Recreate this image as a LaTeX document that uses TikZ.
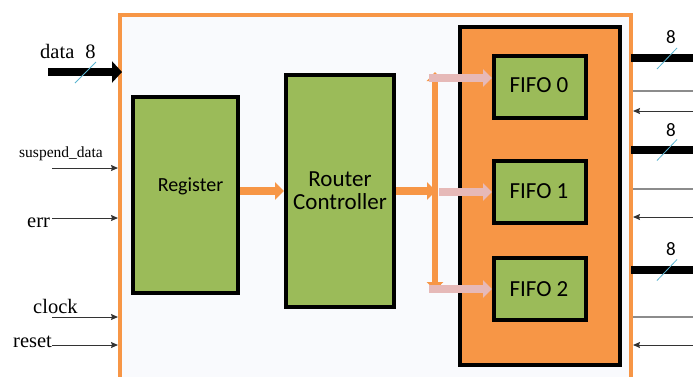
\documentclass[tikz,border=0pt]{standalone}
\usepackage{fontspec}
\usetikzlibrary{arrows.meta}
\newfontfamily\serifface{Liberation Serif}
\newfontfamily\sansface{Carlito}
\definecolor{blockgreen}{HTML}{9BBB59}
\definecolor{blockorange}{HTML}{F79646}
\definecolor{linkpink}{HTML}{E6B9B8}
\definecolor{chipfill}{HTML}{F9FAFD}
\definecolor{buswidth}{HTML}{5BB4D0}
\definecolor{pinline}{HTML}{333333}
\definecolor{idleline}{HTML}{8C8C8C}
\tikzset{
  chip/.style={draw=blockorange, line width=4pt, fill=chipfill, inner sep=0pt},
  block/.style={draw=black, line width=4pt, fill=blockgreen, inner sep=0pt},
  bank/.style={draw=black, line width=4pt, fill=blockorange, inner sep=0pt},
  blocktext/.style={font=\sansface\fontsize{20}{20}\selectfont, inner sep=0pt, anchor=base},
  fifotext/.style={font=\sansface\fontsize{23}{23}\selectfont, inner sep=0pt, anchor=base},
  pinlabel/.style={font=\serifface\fontsize{20.5}{20.5}\selectfont, inner sep=0pt, anchor=base west},
  widthlabel/.style={font=\sansface\fontsize{19}{19}\selectfont, inner sep=0pt, anchor=base},
  thinpin/.style={draw=pinline, line width=1pt, -{Stealth[length=7pt,width=6pt,inset=1pt]}},
  idlepin/.style={draw=idleline, line width=1.2pt},
  buspin/.style={draw=black, line width=8pt},
  slash/.style={draw=buswidth, line width=0.8pt},
  orangeflow/.style={draw=blockorange, line width=8pt, -{Triangle[length=9pt,width=17pt]}},
  orangebus/.style={draw=blockorange, line width=6pt,
    {Triangle[length=9pt,width=16pt]}-{Triangle[length=9pt,width=16pt]}},
  pinkflow/.style={draw=linkpink, line width=8pt, -{Triangle[length=9pt,width=17pt]}},
}
\begin{document}
\begin{tikzpicture}[x=1pt, y=-1pt]
  \useasboundingbox (0,0) rectangle (693,376);
  \clip (0,0) rectangle (693,376);

  % chip outline (runs past the lower edge)
  \node[chip, minimum width=511pt, minimum height=385pt] (chip) at (375.5,207.5) {};

  % functional blocks
  \node[block, minimum width=105pt, minimum height=196pt] (reg) at (185.5,195) {};
  \node[block, minimum width=108pt, minimum height=232pt] (rc) at (340,191) {};
  \node[bank, minimum width=160pt, minimum height=338pt] (bank) at (540,196) {};
  \node[block, minimum width=92pt, minimum height=62pt] (f0) at (540,87) {};
  \node[block, minimum width=92pt, minimum height=62pt] (f1) at (540,192) {};
  \node[block, minimum width=92pt, minimum height=62pt] (f2) at (540,289) {};

  \node[blocktext] (regtxt) at (190.5,191) {Register};
  % base of a two-line node is the baseline of its last line
  \node[fifotext, align=center] (rctxt) at (340,209) {Router\\Controller};
  \node[fifotext] (f0txt) at (539,92) {FIFO 0};
  \node[fifotext] (f1txt) at (539,198) {FIFO 1};
  \node[fifotext] (f2txt) at (539,296) {FIFO 2};

  % internal data path
  \coordinate (busT) at (435,72);
  \coordinate (busB) at (435,291);
  \coordinate (busM) at (436,191);
  \draw[orangeflow] (reg.east |- rc.west) -- (rc.west);
  \draw[orangeflow] (rc.east) -- (busM);
  \draw[orangebus] (busT) -- (busB);
  \coordinate (p0) at (429,78);
  \coordinate (p1) at (439,192);
  \coordinate (p2) at (429,289);
  \draw[pinkflow] (p0) -- (p0 -| f0.west);
  \draw[pinkflow] (p1) -- (p1 -| f1.west);
  \draw[pinkflow] (p2) -- (p2 -| f2.west);

  % input pins
  \coordinate (dIn) at (48,72);
  \draw[buspin, -{Triangle[length=10pt,width=21pt]}] (dIn) -- ([xshift=4pt]chip.west |- dIn);
  \coordinate (dS1) at (75,83);
  \coordinate (dS2) at (96,62);
  \draw[slash] (dS1) -- (dS2);
  \node[pinlabel] (ldata) at (40,58) {data};
  \node[pinlabel, anchor=base] (ldw) at (90.5,58) {8};

  \coordinate (sIn) at (52,168);
  \coordinate (eIn) at (52,218);
  \coordinate (cIn) at (52,317);
  \coordinate (rIn) at (52,345);
  \draw[thinpin] (sIn) -- (chip.west |- sIn);
  \draw[thinpin] (eIn) -- (chip.west |- eIn);
  \draw[thinpin] (cIn) -- (chip.west |- cIn);
  \draw[thinpin] (rIn) -- (chip.west |- rIn);
  \node[pinlabel, font=\serifface\fontsize{15.5}{15.5}\selectfont] (lsus) at (19,157) {suspend\_data};
  \node[pinlabel] (lerr) at (27,227) {err};
  \node[pinlabel] (lclk) at (33,313) {clock};
  \node[pinlabel] (lrst) at (13,347) {reset};

  % output ports, one group per FIFO
  \foreach \i/\yb/\yg/\ya/\yl in {0/58/91/111/43, 1/149.5/189/217/136, 2/269.5/317/345/255}{
    \coordinate (ob\i) at (693,\yb);
    \coordinate (og\i) at (693,\yg);
    \coordinate (oa\i) at (693,\ya);
    \draw[buspin] ([xshift=-2pt]chip.east |- ob\i) -- (ob\i);
    \draw[idlepin] (chip.east |- og\i) -- (og\i);
    \draw[thinpin] (oa\i) -- (chip.east |- oa\i);
    \coordinate (os\i a) at (657,\yb+11);
    \coordinate (os\i b) at (677,\yb-10);
    \draw[slash] (os\i a) -- (os\i b);
    \node[widthlabel] (ow\i) at (671,\yl) {8};
  }
\end{tikzpicture}
\end{document}
